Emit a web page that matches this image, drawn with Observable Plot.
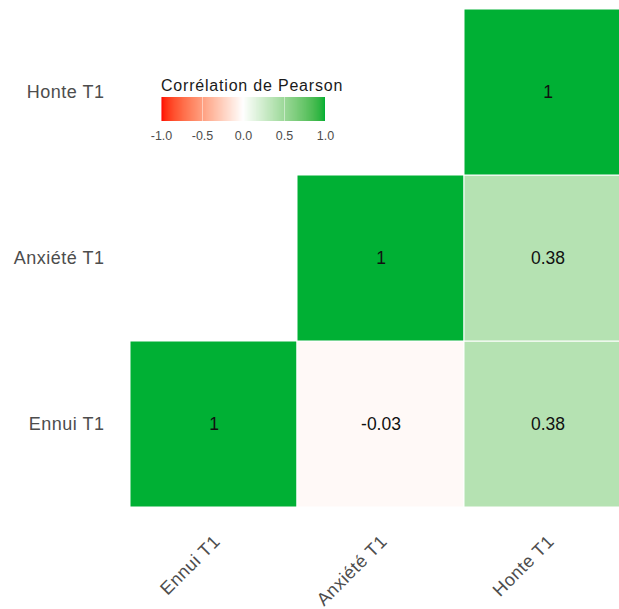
<!DOCTYPE html>
<html>
<head>
<meta charset="utf-8">
<script src="https://cdn.jsdelivr.net/npm/d3@7"></script>
<script src="https://cdn.jsdelivr.net/npm/@observablehq/plot@0.6"></script>
<style>
  html, body { margin: 0; padding: 0; background: white; }
  #wrap { position: relative; width: 619px; height: 609px; overflow: hidden; }
  #legend { position: absolute; left: 149px; top: 81px; }
  #wrap > svg g[aria-label$="axis tick label"] text { letter-spacing: 0.5px; }
</style>
</head>
<body>
<div id="wrap"><div id="legend"></div></div>
<script>
// ---- data ----
const variables = ["Ennui T1", "Anxiété T1", "Honte T1"];
const cellX = ["Ennui T1", "Anxiété T1", "Honte T1", "Anxiété T1", "Honte T1", "Honte T1"];
const cellY = ["Ennui T1", "Ennui T1", "Ennui T1", "Anxiété T1", "Anxiété T1", "Honte T1"];
const cellR = [1, -0.03, 0.38, 1, 0.38, 1];
const legendTicks = [-1, -0.5, 0, 0.5, 1];
const legendTitle = "Corrélation de Pearson";
const colorDomain = [-1, 0, 1];
const colorStops = ["#FF0000", "#FFFFFF", "#00B034"];

const data = cellR.map((r, i) => ({x: cellX[i], y: cellY[i], r}));
const font = "'Liberation Sans', Arial, sans-serif";

const chart = Plot.plot({
  width: 619,
  height: 609,
  marginTop: 8,
  marginBottom: 102,
  marginLeft: 130,
  marginRight: 0,
  style: {fontFamily: font, background: "white"},
  x: {domain: variables, range: [130, 631], padding: 0, axis: null},
  y: {domain: variables.slice().reverse(), padding: 0, axis: null},
  color: {type: "linear", domain: colorDomain, range: colorStops, interpolate: "lab"},
  marks: [
    Plot.cell(data, {x: "x", y: "y", fill: "r", inset: 0, stroke: "white", strokeWidth: 1}),
    Plot.text(data, {x: "x", y: "y", text: d => String(d.r), fontSize: 17.5, fill: "#111"}),
    Plot.axisY({tickSize: 0, tickPadding: 26, fontSize: 18, color: "#4D4D4D", label: null}),
    Plot.axisX({tickSize: 0, tickPadding: 22, tickRotate: -45, fontSize: 18, color: "#4D4D4D", label: null, dy: 9, dx: 3})
  ]
});
document.getElementById("wrap").prepend(chart);

const legend = chart.legend("color", {
  label: legendTitle,
  ticks: legendTicks,
  tickFormat: d => d.toFixed(1),
  width: 188,
  height: 63,
  marginLeft: 12,
  marginRight: 12,
  marginTop: 16,
  marginBottom: 23,
  tickSize: 7,
  style: {fontFamily: font, fontSize: "12.5px", color: "#4D4D4D", background: "transparent", overflow: "visible"}
});
document.getElementById("legend").append(legend);
const lbl = legend.querySelector(":scope > text");
if (lbl) {
  lbl.setAttribute("font-weight", "normal");
  lbl.setAttribute("font-size", "16px");
  lbl.setAttribute("fill", "#1A1A1A");
  lbl.setAttribute("letter-spacing", "0.8px");
}
legend.querySelectorAll(".tick line").forEach(l => { l.setAttribute("stroke", "white"); l.setAttribute("stroke-opacity", "0.45"); });
</script>
</body>
</html>
